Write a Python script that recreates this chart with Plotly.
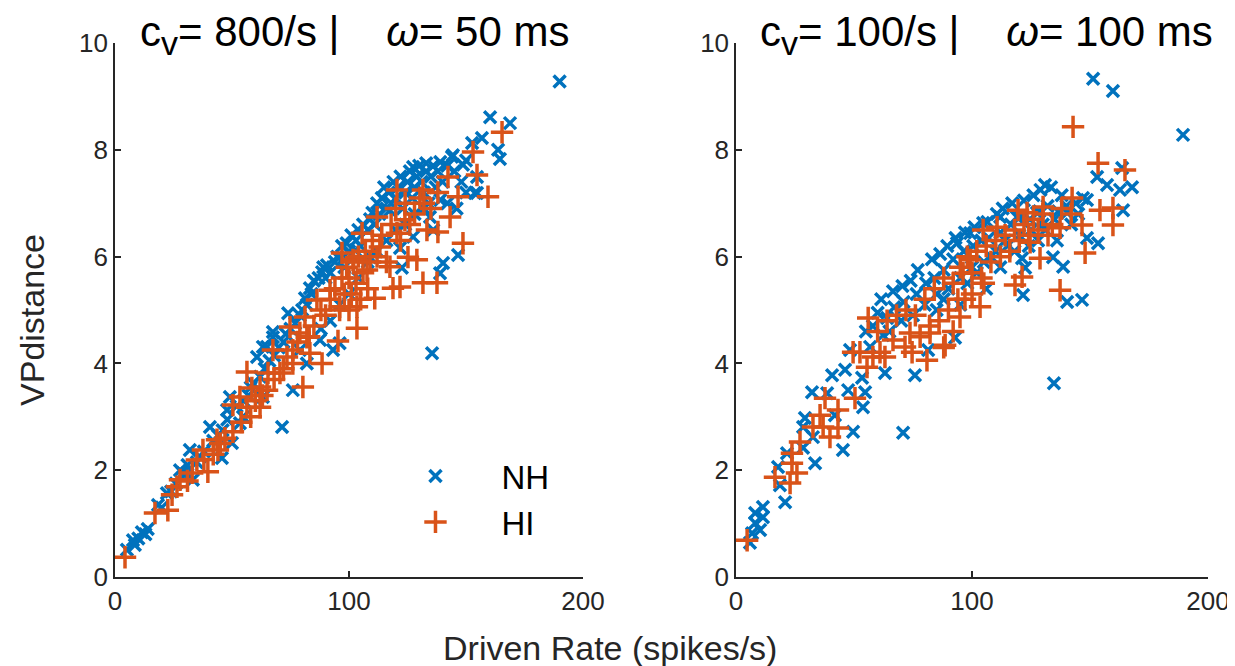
import plotly.graph_objects as go

# VP distance vs driven rate (rate in spikes/s, VP distance)
nh_left = [
    (5.1, 0.51), (7.7, 0.69), (8.5, 0.6), (10, 0.72), (11.5, 0.84), (13, 0.8), (14, 0.9),
    (18.4, 1.35), (20, 1.3), (22.2, 1.57), (24, 1.6), (26, 1.75), (27.8, 2.0), (29, 1.95),
    (30.8, 1.95), (31, 2.1), (33.3, 1.82), (32, 2.38), (35, 2.15), (36.3, 2.25), (38, 2.35),
    (40.6, 2.81), (42, 2.55), (44, 2.65), (45.7, 2.23), (46, 2.75), (47.9, 3.13), (48, 2.95),
    (49.1, 3.37), (50, 2.51), (52, 3.2), (53.4, 2.88), (54.7, 3.0), (55, 3.3), (57, 3.4),
    (58, 3.55), (59, 3.63), (60.7, 4.12), (62, 3.75), (63.2, 3.37), (63.2, 4.31), (64, 3.9),
    (65, 4.31), (66, 4.05), (67.5, 4.49), (67.5, 4.59), (68, 4.15), (70, 4.3), (71.4, 2.81),
    (72, 4.4), (73, 4.55), (74, 4.94), (75, 4.65), (76, 3.5), (77, 4.75), (79, 4.25), (79, 4.9),
    (80, 5.0), (81.2, 5.22), (82, 4.0), (82, 5.1), (83.3, 5.41), (84, 5.3), (85, 5.55), (87, 5.6),
    (87.6, 4.44), (88, 4.65), (88.5, 5.71), (89, 5.8), (90, 5.6), (90.6, 5.84), (92, 4.8),
    (92, 5.7), (93.2, 4.25), (94, 5.9), (95, 6.0), (96, 4.38), (96, 5.1), (97, 6.2), (98, 5.8),
    (99, 6.25), (100, 5.3), (100, 6.1), (101, 6.4), (102.6, 6.12), (103, 6.3), (104, 5.6),
    (104, 6.5), (105, 6.2), (106, 6.6), (108, 5.9), (108, 6.5), (109, 5.99), (109, 6.7),
    (110, 6.82), (111, 6.6), (112, 6.1), (112, 7.0), (113, 6.8), (114, 7.1), (115, 7.3),
    (116, 6.3), (116, 6.9), (117, 7.2), (117.5, 6.87), (118, 7.0), (119, 7.4), (120, 6.5),
    (120, 7.1), (121, 7.3), (121.8, 6.16), (122, 7.5), (122.6, 5.79), (123, 6.9), (124, 6.6),
    (124, 7.2), (125, 7.4), (126, 7.6), (127, 7.1), (127.4, 6.37), (127.4, 7.68), (128, 6.8),
    (128, 7.3), (129, 7.5), (130, 7.7), (131, 7.4), (132, 6.9), (132, 7.2), (133, 7.6),
    (133, 7.75), (134, 7.0), (134.6, 6.74), (135, 7.5), (135.5, 4.19), (136, 6.5), (136, 7.7),
    (137, 7.3), (138, 7.6), (138.9, 5.69), (139, 7.06), (139, 7.77), (140, 7.4), (140.2, 5.88),
    (142, 7.0), (142, 7.7), (144, 7.87), (144.4, 7.9), (145, 7.6), (146, 6.9), (146.6, 6.03),
    (148, 7.4), (148.7, 7.72), (150, 7.2), (150, 7.8), (152.6, 8.13), (153.8, 7.19),
    (154.7, 7.19), (154.7, 7.49), (156.8, 8.22), (160.3, 8.61), (163.7, 8.0), (164.5, 7.83),
    (168.8, 8.5), (190, 9.28),
]

hi_left = [
    (4.3, 0.37), (17.1, 1.2), (22.6, 1.25), (24.4, 1.54), (26.5, 1.69), (27.8, 1.82), (31, 1.8),
    (33, 1.95), (35, 2.19), (37.6, 2.38), (38, 2.2), (39.7, 1.97), (42, 2.3), (43.6, 2.57),
    (44, 2.38), (45, 2.5), (47, 2.6), (50.4, 2.72), (50.4, 3.22), (53.4, 3.37), (54, 2.9),
    (56.4, 3.18), (56.4, 3.84), (58, 3.0), (58.5, 3.54), (60, 3.3), (62, 3.18), (62, 3.56),
    (63, 3.4), (65, 3.5), (65.4, 3.82), (67.5, 4.25), (68, 3.7), (70.5, 3.82), (72, 3.9),
    (73.5, 4.12), (74.8, 4.68), (76, 4.0), (76, 4.25), (78, 4.4), (79, 4.57), (80.3, 3.56),
    (81.2, 4.87), (82, 4.49), (83, 4.5), (83.3, 4.19), (85, 4.7), (86.3, 5.19), (88, 5.0),
    (88.5, 4.0), (90, 4.9), (91.9, 5.37), (92, 5.2), (94, 5.4), (95.3, 4.42), (96, 5.0),
    (96, 5.06), (97, 5.6), (97, 6.07), (98, 5.3), (99, 5.8), (100, 5.0), (100, 5.6), (101, 5.3),
    (101.7, 5.94), (102, 5.9), (103, 5.5), (103.4, 4.66), (103.4, 5.06), (104, 6.0), (105, 5.2),
    (105.6, 6.44), (106, 5.7), (107, 6.1), (107.7, 5.75), (108, 5.4), (109, 5.9), (110, 6.3),
    (111, 5.22), (112, 6.0), (112, 6.74), (113.2, 6.18), (114, 6.4), (116, 5.9), (117.5, 5.81),
    (118, 6.6), (118.8, 5.41), (120, 6.9), (120.5, 6.44), (120.5, 7.25), (121.8, 5.43),
    (122, 6.3), (123.9, 6.69), (124, 7.0), (125.2, 5.99), (126, 6.6), (128, 6.8), (129, 5.94),
    (130.3, 7.10), (131.6, 5.51), (131.6, 7.25), (132, 7.0), (133.3, 6.50), (135, 6.9),
    (137.6, 5.51), (138, 6.46), (138, 7.2), (142.3, 7.49), (143.2, 6.74), (146.6, 7.12),
    (148.7, 6.25), (153, 7.96), (154.7, 7.53), (159.4, 7.12), (165.4, 8.33),
]

nh_right = [
    (5.9, 0.64), (6.8, 0.82), (8.1, 1.01), (8.1, 1.2), (10.2, 0.88), (11.4, 1.12), (11.4, 1.31),
    (17.8, 2.06), (18.6, 1.72), (20.8, 1.4), (21.6, 2.32), (28.4, 2.42), (28.4, 2.81),
    (29.2, 2.98), (32.2, 3.46), (32.6, 2.62), (33.5, 2.13), (38.6, 3.44), (40.7, 3.78),
    (41.9, 3.03), (45.3, 2.38), (46.2, 3.88), (47.5, 3.5), (48.3, 4.25), (49.6, 2.72),
    (53.4, 3.73), (53.8, 3.18), (54.7, 3.46), (55, 4.6), (56.8, 4.31), (58, 4.7), (60, 4.95),
    (61.5, 5.2), (62.3, 4.53), (63.1, 3.82), (64, 4.85), (65, 4.6), (66.5, 5.35), (67, 5.05),
    (70, 4.8), (70.5, 5.45), (70.8, 2.70), (71, 5.15), (74, 5.55), (75, 4.9), (75.8, 3.78),
    (76.5, 5.3), (77, 5.75), (80, 5.1), (80.5, 5.5), (81.4, 4.25), (83, 5.95), (84, 5.6),
    (85, 5.0), (85, 5.3), (86.5, 6.05), (88, 5.2), (88, 5.75), (89.5, 6.2), (90, 5.4),
    (92, 5.95), (92.8, 4.48), (93, 6.35), (93.6, 6.25), (95, 5.1), (95, 5.6), (96.5, 6.1),
    (97, 6.45), (98, 5.5), (99.2, 6.44), (100, 5.8), (100.5, 6.2), (101, 6.55), (102, 5.7),
    (104, 6.3), (104.7, 6.63), (105, 5.9), (106, 5.4), (106.5, 6.65), (107, 6.35), (108, 6.0),
    (110, 6.1), (110.5, 6.8), (111.9, 6.74), (112, 5.8), (112, 6.45), (113, 6.9), (114, 6.3),
    (115, 6.2), (116.5, 6.6), (117, 7.0), (118, 6.1), (119, 6.74), (120, 6.4), (120.5, 6.75),
    (121.2, 5.97), (121.6, 5.28), (122, 7.05), (122.5, 5.79), (124, 6.2), (124.5, 6.7),
    (125, 6.5), (126, 7.15), (127.5, 6.82), (128, 6.3), (128.5, 6.85), (129, 7.25), (130, 6.6),
    (130.9, 7.34), (131, 6.5), (132, 6.95), (133.5, 7.3), (134.3, 5.99), (134.7, 3.63),
    (135, 6.7), (136, 6.3), (136.5, 6.85), (138, 7.15), (138.6, 5.81), (140, 6.95),
    (140.3, 5.15), (140.3, 6.82), (142, 6.6), (144, 7.0), (145, 6.8), (146.6, 5.19), (147, 7.10),
    (148.7, 6.35), (148.7, 7.06), (151.3, 9.33), (153, 7.49), (153.4, 6.25), (157.2, 7.34),
    (159.7, 9.10), (162.7, 7.25), (163.6, 7.66), (164, 6.87), (167.8, 7.30), (189.4, 8.28),
]

hi_right = [
    (4.7, 0.69), (16.5, 1.87), (22.9, 1.76), (23.7, 2.13), (23.7, 2.32), (25.8, 1.95),
    (27.1, 2.53), (32.6, 2.81), (35.6, 3.03), (36.9, 2.81), (37.7, 3.35), (39.8, 2.62),
    (43.2, 2.79), (43.2, 3.13), (49.6, 4.21), (50.4, 3.35), (52.5, 4.21), (55.5, 3.93),
    (56, 4.85), (58, 4.12), (60, 4.6), (61, 4.21), (63.1, 4.12), (64, 4.8), (66.5, 4.44),
    (68, 4.9), (71.6, 4.31), (72, 5.0), (73.7, 4.57), (74.6, 4.21), (76, 4.9), (78, 4.5),
    (80, 5.2), (80.9, 4.06), (82, 4.7), (82.2, 4.57), (84, 5.4), (86, 4.8), (88, 4.3), (88, 5.6),
    (88.6, 4.34), (90, 5.0), (92, 4.6), (92, 5.5), (94, 5.2), (94.9, 4.87), (95, 5.8),
    (96.2, 5.69), (97, 5.2), (98, 6.0), (99.2, 5.94), (100, 5.3), (100, 5.7), (102, 6.1),
    (103.4, 5.06), (104, 5.6), (104.7, 6.50), (105, 5.5), (106, 6.2), (108, 5.9), (110, 6.3),
    (110.6, 6.55), (112, 6.0), (114, 6.4), (116, 6.1), (118, 6.5), (118.2, 5.47), (119.5, 6.87),
    (120, 6.3), (121.2, 5.62), (122, 6.6), (123.3, 6.82), (124, 6.4), (124.6, 6.27), (126, 6.7),
    (128, 6.5), (128.8, 5.97), (130, 6.8), (130.1, 6.93), (132.2, 6.40), (134, 6.6),
    (137.3, 5.37), (137.3, 6.54), (138, 6.9), (142, 6.8), (142.4, 7.10), (142.8, 8.43),
    (146.6, 6.59), (147.9, 6.07), (153.4, 7.75), (154.2, 6.87), (159.7, 6.59), (159.7, 6.91),
    (164.8, 7.62),
]

nb = '\u00a0'
sub_v = '<sub><span style="font-size:34px">v</span></sub>'
titles = ['c' + sub_v + '= 800/s |' + nb * 4 + '<i>ω</i>= 50 ms',
          'c' + sub_v + '= 100/s |' + nb * 4 + '<i>ω</i>= 100 ms']

blue = '#0072BD'
orange = '#D95319'
axcol = '#262626'
font = 'Liberation Sans, Arial, sans-serif'

fig = go.Figure()

panels = [(nh_left, hi_left, 'x', 'y', True), (nh_right, hi_right, 'x2', 'y2', False)]
for nh, hi, xa, ya, leg in panels:
    fig.add_trace(go.Scatter(
        x=[p[0] for p in nh], y=[p[1] for p in nh], mode='markers', name='NH',
        xaxis=xa, yaxis=ya, showlegend=leg,
        marker=dict(symbol='x-thin', size=12, line=dict(width=3.5, color=blue))))
    fig.add_trace(go.Scatter(
        x=[p[0] for p in hi], y=[p[1] for p in hi], mode='markers', name='HI',
        xaxis=xa, yaxis=ya, showlegend=leg,
        marker=dict(symbol='cross-thin', size=16, line=dict(width=3.5, color=orange))))

ax_common = dict(showline=True, linecolor=axcol, linewidth=1.5, ticks='inside', ticklen=6,
                 tickwidth=1.5, tickcolor=axcol, showgrid=False, zeroline=False, automargin=False,
                 tickfont=dict(size=26, color=axcol, family=font))

fig.update_layout(
    width=1235, height=666,
    margin=dict(l=0, r=0, t=0, b=0, autoexpand=False),
    plot_bgcolor='white', paper_bgcolor='white',
    font=dict(family=font, color='black'),
    xaxis=dict(domain=[0.0866, 0.4656], range=[0, 200], tickvals=[0, 100, 200], anchor='y', **ax_common),
    yaxis=dict(domain=[0.1456, 0.9474], range=[0, 10], tickvals=[0, 2, 4, 6, 8, 10], anchor='x', **ax_common),
    xaxis2=dict(domain=[0.5895, 0.9717], range=[0, 200], tickvals=[0, 100, 200], anchor='y2', **ax_common),
    yaxis2=dict(domain=[0.1456, 0.9474], range=[0, 10], tickvals=[0, 2, 4, 6, 8, 10], anchor='x2', **ax_common),
    legend=dict(x=0.2927, y=0.3393, xanchor='left', yanchor='top', bgcolor='rgba(0,0,0,0)',
                font=dict(size=33, color='black', family=font), itemwidth=122),
    annotations=[
        dict(text=titles[0], x=0.2806, y=0.96, xref='paper', yref='paper', showarrow=False,
             xanchor='center', yanchor='middle', font=dict(size=42, color='black')),
        dict(text=titles[1], x=0.7923, y=0.96, xref='paper', yref='paper', showarrow=False,
             xanchor='center', yanchor='middle', font=dict(size=42, color='black')),
        dict(text='VPdistance', x=0.0194, y=0.5315, xref='paper', yref='paper', showarrow=False,
             xanchor='center', yanchor='middle', textangle=-90, font=dict(size=34, color=axcol)),
        dict(text='Driven Rate (spikes/s)', x=0.4874, y=0.039, xref='paper', yref='paper',
             xanchor='center', yanchor='middle', showarrow=False, font=dict(size=34, color=axcol)),
    ],
)

fig.write_html('out.html')
